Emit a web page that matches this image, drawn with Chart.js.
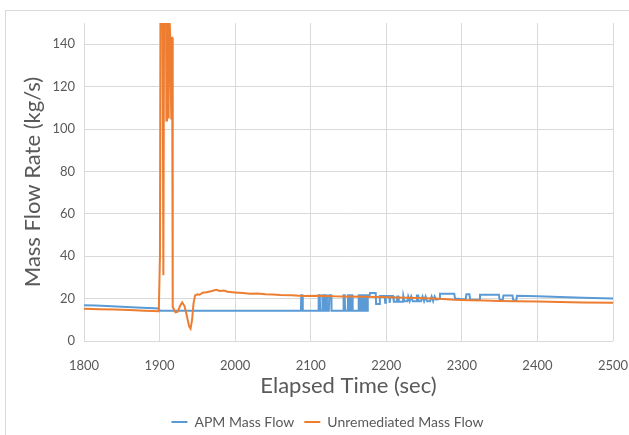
<!DOCTYPE html>
<html lang="en">
  <head>
    <meta charset="UTF-8" />
    <title>Mass Flow Rate</title>
    <script src="https://cdn.jsdelivr.net/npm/chart.js"></script>
    <style>
      body { margin: 0; background: #fff; }
      .wrap { position: relative; width: 629px; height: 435px; }
      .frame {
        position: absolute; left: 5px; top: 10px; width: 640px; height: 440px;
        border: 1px solid #d9d9d9; pointer-events: none;
      }
    </style>
  </head>
  <body>
    <div class="wrap">
      <canvas id="flowChart" width="629" height="435"></canvas>
      <div class="frame"></div>
    </div>
    <script>
      // APM mass flow (kg/s) vs elapsed time (sec)
      const apmTime = [
        1800, 1815, 1830, 1850, 1870, 1899, 1900.5, 2087, 2087.5, 2089, 2089.5,
        2110, 2110.5, 2112, 2112.5, 2115, 2115.5, 2117, 2117.5, 2119, 2119.5,
        2121, 2121.5, 2124, 2124.5, 2127, 2127.5, 2143, 2143.5, 2145, 2145.5,
        2149, 2149.5, 2151, 2151.5, 2153, 2153.5, 2155, 2155.5, 2163, 2163.5,
        2165, 2165.5, 2167, 2167.5, 2169, 2169.5, 2171, 2171.5, 2173, 2173.5,
        2175, 2175.5, 2178, 2178.5, 2186, 2186.5, 2191, 2191.5, 2198, 2198.5,
        2199.5, 2204, 2204.5, 2205.5, 2209, 2210, 2214, 2214.5, 2216, 2216.5,
        2222, 2222.5, 2224, 2228, 2229, 2231, 2233, 2235, 2240, 2240.5, 2242,
        2242.5, 2246, 2248, 2250, 2252, 2254, 2258, 2260, 2262, 2264, 2266,
        2270, 2271, 2290, 2291, 2305, 2306, 2310, 2311, 2323, 2324, 2349, 2350,
        2354, 2355, 2367, 2368, 2372, 2373, 2400, 2430, 2460, 2500
      ];
      const apmFlow = [
        16.9, 16.7, 16.5, 16.1, 15.8, 15.3, 14.3, 14.3, 21.6, 21.6, 14.3,
        14.3, 21.6, 21.6, 14.3, 14.3, 21.6, 21.6, 14.3, 14.3, 21.6,
        21.6, 14.3, 14.3, 21.6, 21.6, 14.3, 14.3, 21.6, 21.6, 14.3,
        14.3, 21.6, 21.6, 14.3, 14.3, 21.6, 21.6, 14.3, 14.3, 21.6,
        21.6, 14.3, 14.3, 21.6, 21.6, 14.3, 14.3, 21.6, 21.6, 14.3,
        14.3, 21.6, 21.6, 22.6, 22.6, 17.5, 17.5, 21.2, 21.2, 18,
        21.2, 21.2, 18, 21.2, 21.2, 18.5, 18.5, 21, 21, 18.5,
        18.5, 21.3, 18.8, 18.8, 21, 18.8, 21, 18.8, 18.8, 21.5, 21.5,
        18.8, 18.8, 21, 18.8, 21, 18.8, 18.8, 21, 18.8, 21, 19.5,
        19.8, 22.3, 22.3, 20, 19.6, 22, 22, 19.6, 19.5, 21.8, 21.8, 19.3,
        19.3, 21.5, 21.5, 19.1, 19.1, 21.3, 21.1, 20.8, 20.4, 20.1
      ];

      // Unremediated mass flow (kg/s) vs elapsed time (sec)
      const unremTime = [
        1800, 1820, 1840, 1860, 1880, 1899, 1900.5, 1901.5, 1904, 1905, 1906,
        1908.5, 1909, 1909.8, 1911.5, 1912, 1912.5, 1913.5, 1914, 1915, 1915.5,
        1916, 1916.6, 1917.4, 1921, 1924, 1927, 1930, 1933, 1936, 1939, 1941,
        1943, 1945, 1947, 1950, 1953, 1957, 1962, 1968, 1975, 1980, 1985, 1990,
        2000, 2010, 2020, 2030, 2040, 2050, 2060, 2075, 2090, 2110, 2130, 2150,
        2170, 2190, 2210, 2230, 2250, 2270, 2290, 2310, 2330, 2350, 2370, 2400,
        2430, 2460, 2500
      ];
      const unremFlow = [
        15.2, 15.0, 14.8, 14.6, 14.3, 14.0, 40, 160, 160, 31, 160,
        160, 104, 160, 160, 105, 160, 160, 144, 144, 105,
        143, 143, 16, 13.5, 13.8, 16.5, 18.2, 16.5, 12, 7, 5.8,
        10, 18, 21.5, 22, 21.8, 22.8, 23, 23.5, 24.2, 23.6, 23.8, 23.2,
        22.9, 22.6, 22.3, 22.4, 22, 21.9, 21.7, 21.6, 21.2, 21.4, 21.1, 21.0,
        20.9, 20.7, 20.5, 20.4, 20.2, 19.9, 19.4, 19.2, 19.1, 18.9, 18.8, 18.6,
        18.4, 18.2, 18.0
      ];

      const seriesNames = ["APM Mass Flow", "Unremediated Mass Flow"];
      const xTicks = [1800, 1900, 2000, 2100, 2200, 2300, 2400, 2500];
      const yTicks = [0, 20, 40, 60, 80, 100, 120, 140];

      const textColor = "#595959";
      const gridColor = "#d9d9d9";
      const family = "Lato, 'Open Sans', sans-serif";

      const toPoints = (xs, ys) => xs.map((x, i) => ({ x: x, y: ys[i] }));

      const ctx = document.getElementById("flowChart").getContext("2d");
      new Chart(ctx, {
        type: "line",
        data: {
          datasets: [
            {
              label: seriesNames[0],
              data: toPoints(apmTime, apmFlow),
              borderColor: "#5B9BD5",
              backgroundColor: "#5B9BD5",
              borderWidth: 2,
              pointRadius: 0,
              tension: 0,
              order: 1,
            },
            {
              label: seriesNames[1],
              data: toPoints(unremTime, unremFlow),
              borderColor: "#ED7D31",
              backgroundColor: "#ED7D31",
              borderWidth: 2,
              pointRadius: 0,
              tension: 0,
              order: 0,
            },
          ],
        },
        options: {
          responsive: false,
          animation: false,
          devicePixelRatio: 1,
          // left padding nudges the centred legend to the right
          layout: { padding: { left: 42, right: 16, top: 23, bottom: -4 } },
          plugins: {
            tooltip: { enabled: false },
            legend: {
              position: "bottom",
              labels: {
                color: textColor,
                font: { family: family, size: 14 },
                usePointStyle: true,
                pointStyle: "line",
                pointStyleWidth: 16,
                padding: 10,
                sort: (a, b) => a.datasetIndex - b.datasetIndex,
              },
            },
          },
          scales: {
            x: {
              type: "linear",
              min: 1800,
              max: 2500,
              afterBuildTicks: (axis) => {
                axis.ticks = xTicks.map((v) => ({ value: v }));
              },
              afterFit: (axis) => {
                axis.height = 64;
                axis.paddingRight = 0;
              },
              grid: { color: gridColor, drawTicks: false },
              border: { display: false },
              ticks: {
                color: textColor,
                font: { family: family, size: 13 },
                padding: 17,
                maxRotation: 0,
                callback: (v) => String(v),
              },
              title: {
                display: true,
                text: "Elapsed Time (sec)",
                color: textColor,
                font: { family: family, size: 22 },
                padding: { top: 0, bottom: 6 },
              },
            },
            y: {
              min: 0,
              max: 150,
              afterBuildTicks: (axis) => {
                axis.ticks = yTicks.map((v) => ({ value: v }));
              },
              afterFit: (axis) => {
                axis.width = 42;
              },
              grid: { color: gridColor, drawTicks: false },
              border: { display: false },
              ticks: {
                color: textColor,
                font: { family: family, size: 13 },
                padding: 9,
              },
              title: {
                display: true,
                text: "Mass Flow Rate (kg/s)",
                color: textColor,
                font: { family: family, size: 22 },
                padding: { top: -22, bottom: 0 },
              },
            },
          },
        },
      });
    </script>
  </body>
</html>
